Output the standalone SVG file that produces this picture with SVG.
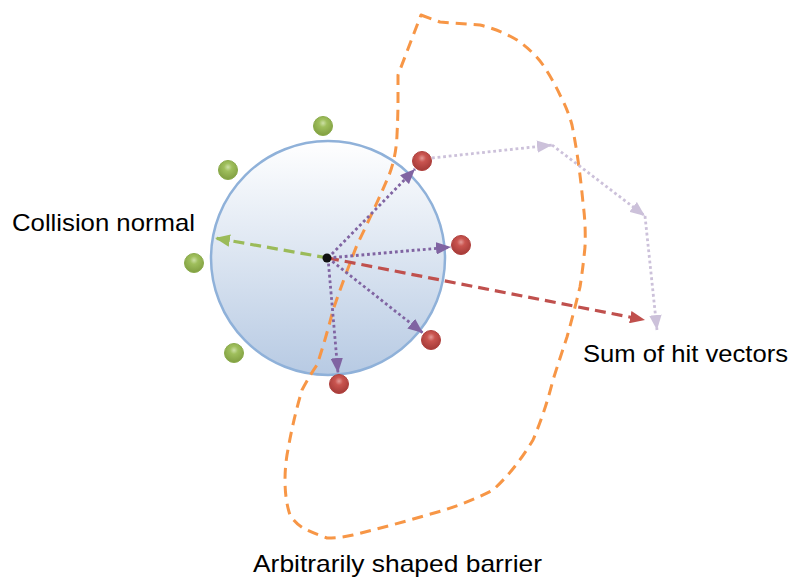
<svg xmlns="http://www.w3.org/2000/svg" width="792" height="577" viewBox="0 0 792 577">
<style>
.lbl{font-family:"Liberation Sans",Arial,sans-serif;font-size:24px;fill:#000}
.purple{stroke:#8064a2;stroke-width:2.8;stroke-dasharray:2.8 2.8;fill:none}
.lpurple{stroke:#ccc1da;stroke-width:2.8;stroke-dasharray:2.8 2.8;fill:none}
.green{stroke:#9bbb59;stroke-width:3.2;stroke-dasharray:11 6;fill:none}
.red{stroke:#c0504d;stroke-width:3.2;stroke-dasharray:11 6;fill:none}
.barrier{stroke:#f79646;stroke-width:3;stroke-dasharray:11 7;fill:none;stroke-linejoin:round}
</style>
<defs>
<linearGradient id="sphere" x1="0" y1="0" x2="0" y2="1">
<stop offset="0" stop-color="#ffffff"/>
<stop offset="1" stop-color="#b7cae3"/>
</linearGradient>
<radialGradient id="redBall" cx="0.5" cy="0.35" r="0.6">
<stop offset="0" stop-color="#e49a97"/>
<stop offset="0.35" stop-color="#c9544f"/>
<stop offset="1" stop-color="#a83d3a"/>
</radialGradient>
<radialGradient id="greenBall" cx="0.5" cy="0.35" r="0.6">
<stop offset="0" stop-color="#cde0a6"/>
<stop offset="0.35" stop-color="#9fbf5c"/>
<stop offset="1" stop-color="#84a244"/>
</radialGradient>
<marker id="mPurple" viewBox="0 0 12 10" refX="12" refY="5" markerWidth="15" markerHeight="12.5" markerUnits="userSpaceOnUse" orient="auto"><path d="M0,0 L12,5 L0,10 z" fill="#8064a2"/></marker>
<marker id="mLPurple" viewBox="0 0 12 10" refX="12" refY="5" markerWidth="15" markerHeight="12.5" markerUnits="userSpaceOnUse" orient="auto"><path d="M0,0 L12,5 L0,10 z" fill="#ccc1da"/></marker>
<marker id="mGreen" viewBox="0 0 12 10" refX="12" refY="5" markerWidth="15" markerHeight="12.5" markerUnits="userSpaceOnUse" orient="auto"><path d="M0,0 L12,5 L0,10 z" fill="#9bbb59"/></marker>
<marker id="mRed" viewBox="0 0 12 10" refX="12" refY="5" markerWidth="15" markerHeight="12.5" markerUnits="userSpaceOnUse" orient="auto"><path d="M0,0 L12,5 L0,10 z" fill="#c0504d"/></marker>
</defs>
<rect width="792" height="577" fill="#ffffff"/>

<g id="sphere-node">
<circle cx="328" cy="258" r="117" fill="url(#sphere)" stroke="#8fb1d9" stroke-width="2.5"/>
</g>

<g id="barrier">
<path class="barrier" d="M421,15 L440,22 L480,25 Q500,30 517,40 Q533,51 543,65 Q553,80 560,95 Q568,110 572,125 Q579,160 583,203 Q586,225 585,247 Q583,268 580,287 Q574,312 567,337 Q560,358 553,380 Q545,412 533,440 Q515,470 493,490 Q462,506 427,515 Q390,526 353,535 Q340,538 327,538 Q313,533 303,528 Q295,523 290,515 Q285,500 285,480 Q285,468 287,455 Q293,420 302,390 Q310,375 317,365 Q326,338 333,310 Q344,278 357,245 Q373,212 387,180 Q396,160 397,135 Q398,115 398,100 L398,75 Z"/>
</g>

<g id="connectors">
<line class="green" x1="328" y1="258" x2="215" y2="238" marker-end="url(#mGreen)"/>
<line class="red" x1="328" y1="258" x2="645" y2="320" marker-end="url(#mRed)"/>
<line class="purple" x1="328" y1="258" x2="415" y2="169" marker-end="url(#mPurple)"/>
<line class="purple" x1="328" y1="258" x2="451" y2="247" marker-end="url(#mPurple)"/>
<line class="purple" x1="328" y1="258" x2="423" y2="333" marker-end="url(#mPurple)"/>
<line class="purple" x1="328" y1="258" x2="338" y2="373" marker-end="url(#mPurple)"/>
<line class="lpurple" x1="432" y1="158" x2="552" y2="145" marker-end="url(#mLPurple)"/>
<line class="lpurple" x1="552" y1="145" x2="645" y2="216" marker-end="url(#mLPurple)"/>
<line class="lpurple" x1="645" y1="216" x2="657" y2="330" marker-end="url(#mLPurple)"/>
</g>

<g id="center-point"><circle cx="327" cy="258" r="4.5" fill="#111"/></g>

<g id="green-balls">
<circle cx="323" cy="126" r="9.5" fill="url(#greenBall)" stroke="#8aab4a" stroke-width="1"/>
<circle cx="228" cy="170" r="9.5" fill="url(#greenBall)" stroke="#8aab4a" stroke-width="1"/>
<circle cx="194" cy="263" r="9.5" fill="url(#greenBall)" stroke="#8aab4a" stroke-width="1"/>
<circle cx="234" cy="353" r="9.5" fill="url(#greenBall)" stroke="#8aab4a" stroke-width="1"/>
</g>
<g id="red-balls">
<circle cx="422" cy="161" r="9.5" fill="url(#redBall)" stroke="#b0403d" stroke-width="1"/>
<circle cx="461" cy="245" r="9.5" fill="url(#redBall)" stroke="#b0403d" stroke-width="1"/>
<circle cx="431" cy="340" r="9.5" fill="url(#redBall)" stroke="#b0403d" stroke-width="1"/>
<circle cx="339" cy="384" r="9.5" fill="url(#redBall)" stroke="#b0403d" stroke-width="1"/>
</g>

<g id="label-collision"><text class="lbl" x="12" y="231" textLength="183" lengthAdjust="spacingAndGlyphs">Collision normal</text></g>
<g id="label-sum"><text class="lbl" x="583" y="362" textLength="205" lengthAdjust="spacingAndGlyphs">Sum of hit vectors</text></g>
<g id="label-barrier"><text class="lbl" x="253" y="572" textLength="289" lengthAdjust="spacingAndGlyphs">Arbitrarily shaped barrier</text></g>
</svg>
